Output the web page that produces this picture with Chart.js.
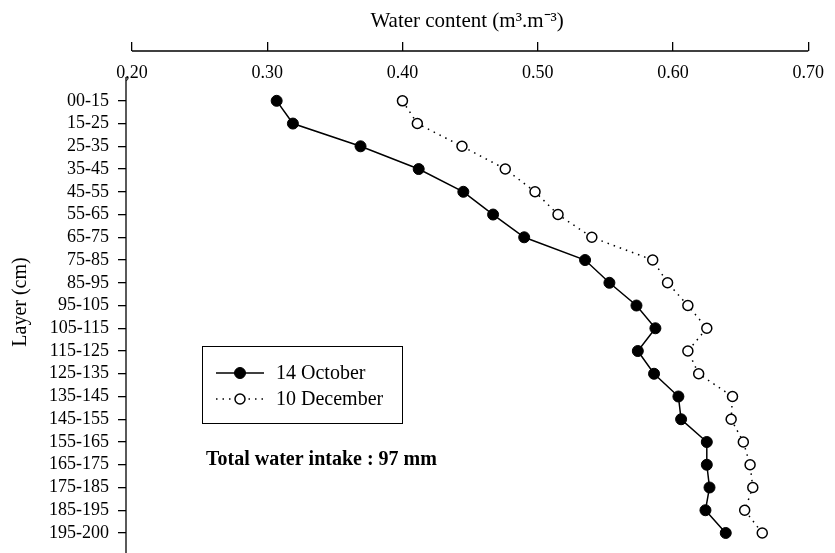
<!DOCTYPE html>
<html>
<head>
<meta charset="utf-8">
<script src="https://cdn.jsdelivr.net/npm/chart.js@4"></script>
<style>
  html, body { margin: 0; padding: 0; background: #fff; }
  #wrap { width: 835px; height: 553px; }
</style>
</head>
<body>
<div id="wrap"><canvas id="myChart"></canvas></div>
<script>
const layers = ["00-15", "15-25", "25-35", "35-45", "45-55", "55-65", "65-75", "75-85", "85-95", "95-105",
    "105-115", "115-125", "125-135", "135-145", "145-155", "155-165", "165-175", "175-185", "185-195", "195-200"];
const october = [0.307, 0.319, 0.369, 0.412, 0.445, 0.467, 0.490, 0.535, 0.553, 0.573,
    0.587, 0.574, 0.586, 0.604, 0.606, 0.625, 0.625, 0.627, 0.624, 0.639];
const december = [0.400, 0.411, 0.444, 0.476, 0.498, 0.515, 0.540, 0.585, 0.596, 0.611,
    0.625, 0.611, 0.619, 0.644, 0.643, 0.652, 0.657, 0.659, 0.653, 0.666];
const xTicks = [0.2, 0.3, 0.4, 0.5, 0.6, 0.7];
const xTickLabels = ["0,20", "0.30", "0.40", "0.50", "0.60", "0.70"];
const seriesNames = ["14 October", "10 December"];
const note = "Total water intake : 97 mm";

const serif = "'Liberation Serif', 'Times New Roman', serif";

// axis lines are detached from each other in the original, so draw them here
const frame = {
    id: "frame",
    afterDraw(chart) {
        const { ctx, chartArea } = chart;
        const x = chart.scales.x, y = chart.scales.y;
        ctx.save();
        ctx.strokeStyle = "#000";
        ctx.lineWidth = 1.3;
        ctx.beginPath();
        ctx.moveTo(x.getPixelForValue(xTicks[0]), chartArea.top);
        ctx.lineTo(x.getPixelForValue(xTicks[xTicks.length - 1]), chartArea.top);
        ctx.stroke();
        ctx.beginPath();
        ctx.moveTo(chartArea.left, y.getPixelForValue(-1.05));
        ctx.lineTo(chartArea.left, chartArea.bottom);
        ctx.stroke();

        // legend box
        const bx = 202, by = 346, bw = 200, bh = 77;
        ctx.lineWidth = 1;
        ctx.strokeRect(bx + 0.5, by + 0.5, bw, bh);
        chart.data.datasets.forEach((ds, i) => {
            const ry = 373 + i * 26;
            ctx.save();
            ctx.lineWidth = ds.borderWidth;
            ctx.setLineDash(ds.borderDash || []);
            ctx.beginPath();
            ctx.moveTo(216, ry);
            ctx.lineTo(264, ry);
            ctx.stroke();
            ctx.setLineDash([]);
            ctx.beginPath();
            ctx.arc(240, ry, ds.pointRadius, 0, Math.PI * 2);
            ctx.fillStyle = ds.pointBackgroundColor;
            ctx.fill();
            ctx.lineWidth = ds.pointBorderWidth;
            ctx.stroke();
            ctx.restore();
            ctx.fillStyle = "#000";
            ctx.font = "20px " + serif;
            ctx.textBaseline = "middle";
            ctx.fillText(ds.label, 276, ry + 1);
        });

        ctx.font = "bold 20px " + serif;
        ctx.fillStyle = "#000";
        ctx.textBaseline = "middle";
        ctx.fillText(note, 206, 460);
        ctx.restore();
    }
};

window.onload = () => {
    const data = {
        datasets: [
            {
                label: seriesNames[0],
                data: october.map((v, i) => ({ x: v, y: i })),
                showLine: true,
                borderColor: "#000",
                borderWidth: 1.5,
                pointRadius: 5.5,
                pointBackgroundColor: "#000",
                pointBorderColor: "#000",
                pointBorderWidth: 1,
            },
            {
                label: seriesNames[1],
                data: december.map((v, i) => ({ x: v, y: i })),
                showLine: true,
                borderColor: "#000",
                borderWidth: 1.5,
                borderDash: [1.5, 5],
                pointRadius: 5,
                pointBackgroundColor: "#fff",
                pointBorderColor: "#000",
                pointBorderWidth: 1.5,
            },
        ],
    };

    const config = {
        type: "scatter",
        data: data,
        options: {
            responsive: true,
            maintainAspectRatio: false,
            animation: false,
            layout: { autoPadding: false, padding: { left: 0, right: 19, top: 0, bottom: 0 } },
            plugins: { legend: { display: false }, tooltip: { enabled: false } },
            scales: {
                x: {
                    type: "linear",
                    position: "top",
                    min: 0.2 - 6 / 1368,
                    max: 0.7,
                    afterBuildTicks: (s) => { s.ticks = xTicks.map((v) => ({ value: v })); },
                    afterFit: (s) => { s.height = 51; },
                    border: { display: false },
                    grid: { drawOnChartArea: false, drawTicks: true, tickLength: 9, color: "#000", lineWidth: 1.3 },
                    ticks: {
                        mirror: true,
                        padding: 11,
                        color: "#000",
                        font: { family: serif, size: 18 },
                        maxRotation: 0,
                        callback: (v) => xTickLabels[xTicks.indexOf(v)],
                    },
                    title: {
                        display: true,
                        text: "Water content (m³.m⁻³)",
                        color: "#000",
                        font: { family: serif, size: 21 },
                        padding: { top: 9, bottom: 0 },
                    },
                },
                y: {
                    type: "linear",
                    reverse: true,
                    min: -2.19,
                    max: 19.88,
                    afterBuildTicks: (s) => { s.ticks = layers.map((_, i) => ({ value: i })); },
                    afterFit: (s) => { s.width = 126; s.paddingTop = 0; s.paddingBottom = 0; },
                    border: { display: false },
                    grid: { drawOnChartArea: false, drawTicks: true, tickLength: 8, color: "#000", lineWidth: 1.3 },
                    ticks: {
                        padding: 9,
                        color: "#000",
                        font: { family: serif, size: 18 },
                        autoSkip: false,
                        callback: (v) => layers[v],
                    },
                    title: {
                        display: true,
                        text: "Layer (cm)",
                        color: "#000",
                        font: { family: serif, size: 20 },
                        padding: { top: 9, bottom: 0 },
                    },
                },
            },
        },
        plugins: [frame],
    };

    const myChart = new Chart(document.getElementById("myChart"), config);
};
</script>
</body>
</html>
